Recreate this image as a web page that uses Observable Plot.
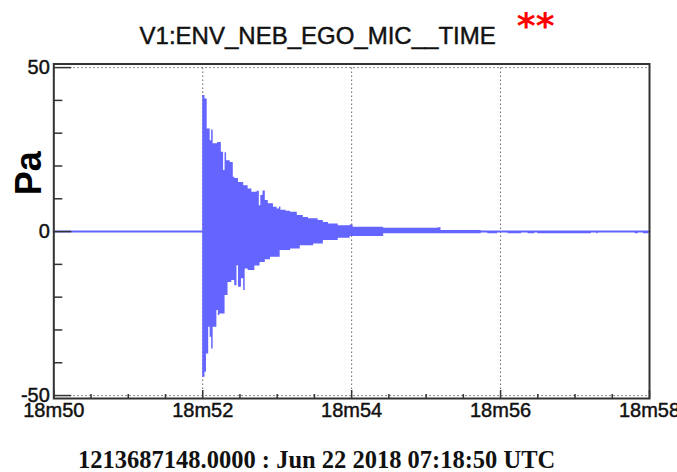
<!DOCTYPE html>
<html>
<head>
<meta charset="utf-8">
<script src="https://cdn.jsdelivr.net/npm/d3@7"></script>
<script src="https://cdn.jsdelivr.net/npm/@observablehq/plot@0.6"></script>
<style>
  body { margin: 0; background: #fff; }
  svg { display: block; }
  /* slightly heavier strokes for the sans labels */
  .heavy text, g[aria-label$="tick label"] text { stroke: #111; stroke-width: 0.45px; }
</style>
</head>
<body>
<div id="chart"></div>
<script>
// Labels
const channelName = "V1:ENV_NEB_EGO_MIC__TIME";
const flagMark = "**";
const gpsCaption = "1213687148.0000 : Jun 22 2018 07:18:50 UTC";
const yLabel = "Pa";

// Axis ticks (x in seconds past 07:18)
const xMajor = [50, 52, 54, 56, 58];
const xTickLabels = ["18m50", "18m52", "18m54", "18m56", "18m58"];
const xMinor = [50.5, 51, 51.5, 52.5, 53, 53.5, 54.5, 55, 55.5, 56.5, 57, 57.5];
const yMajor = [-50, 0, 50];
const yMinor = [-40, -30, -20, -10, 10, 20, 30, 40];

// Quiet trace level before and after the event
const traceT = [50, 58];
const traceV = [0, 0];

// Positive envelope of the microphone signal (Pa)
const upperT = [52.00, 52.03, 52.06, 52.10, 52.12, 52.14, 52.20, 52.25, 52.28, 52.30,
                52.32, 52.37, 52.41, 52.43, 52.48, 52.55, 52.61, 52.66, 52.73, 52.76,
                52.78, 52.81, 52.84, 52.88, 52.95, 53.00, 53.03, 53.05, 53.12, 53.18,
                53.27, 53.35, 53.42, 53.55, 53.62, 53.69, 53.82, 53.98, 54.02, 54.43,
                55.16, 55.20, 55.74];
const upperV = [41.5, 40.4, 31.3, 27.7, 31.0, 26.8, 27.2, 24.2, 18.6, 24.0,
                21.6, 21.1, 16.6, 16.2, 15.0, 14.0, 13.0, 12.0, 12.3, 7.9,
                11.0, 12.4, 9.5, 8.5, 7.4, 6.9, 7.5, 6.5, 6.2, 5.9,
                4.9, 4.3, 3.9, 3.4, 2.8, 2.3, 1.8, 2.0, 1.3, 1.0,
                1.2, 0.3, 0];

// Negative envelope of the microphone signal (Pa)
const lowerT = [52.00, 52.03, 52.05, 52.08, 52.10, 52.12, 52.14, 52.19, 52.21, 52.23,
                52.30, 52.34, 52.39, 52.43, 52.46, 52.48, 52.52, 52.55, 52.57, 52.61,
                52.70, 52.77, 52.84, 52.91, 53.04, 53.18, 53.31, 53.49, 53.62, 53.82,
                53.98, 54.43, 55.74, 55.83, 55.96, 56.10, 56.28, 56.37, 56.46, 56.50,
                57.22, 57.29, 57.31, 57.81, 57.85, 57.92, 57.99];
const lowerV = [-44.4, -42.9, -37.3, -29.2, -32.2, -35.8, -29.2, -24.1, -25.6, -25.1,
                -19.5, -15.5, -14.9, -16.5, -10.4, -17.0, -14.4, -18.0, -11.4, -11.9,
                -10.5, -9.4, -8.6, -7.8, -5.8, -5.3, -4.3, -3.8, -2.7, -2.0,
                -1.5, -0.7, 0, -0.7, 0, -0.7, 0, -0.7, 0, -0.7,
                0, -0.7, 0, -0.7, 0, -0.7, 0];

const upper = upperT.map((t, i) => ({t, v: upperV[i]}));
const lower = lowerT.map((t, i) => ({t, v: lowerV[i]}));
const trace = traceT.map((t, i) => ({t, v: traceV[i]}));

const signalColor = "#6464ff";
const axisColor = "#333";
const sans = "'Liberation Sans', Arial, Helvetica, sans-serif";

const chart = Plot.plot({
  width: 677,
  height: 472,
  marginTop: 63.5,
  marginBottom: 74,
  marginLeft: 53.3,
  marginRight: 28,
  style: {fontFamily: sans, background: "#fff", color: "#111"},
  x: {domain: [50, 58]},
  y: {domain: [-50.9, 51.1]},
  marks: [
    Plot.gridX(xMajor, {stroke: "#666", strokeOpacity: 1, strokeDasharray: "1.5,2.5"}),
    Plot.gridY(yMajor, {stroke: "#666", strokeOpacity: 1, strokeDasharray: "1.5,2.5"}),
    Plot.lineY(trace, {x: "t", y: "v", stroke: signalColor, strokeWidth: 2}),
    Plot.areaY(upper, {x: "t", y: "v", curve: "step-after", fill: signalColor}),
    Plot.areaY(lower, {x: "t", y: "v", curve: "step-after", fill: signalColor}),
    Plot.frame({stroke: axisColor, strokeWidth: 2}),
    // inward ticks on the left axis
    Plot.axisY(yMajor, {tickSize: -18, tickPadding: 22, tickFormat: d => String(d),
      fontSize: 20, label: null, color: axisColor, fill: "#111", strokeWidth: 1.5}),
    Plot.axisY(yMinor, {tickSize: -9, text: null, label: null, color: axisColor, strokeWidth: 1.5}),
    // inward ticks on the time axis
    Plot.axisX(xMajor, {tickSize: -8, tickPadding: 12,
      tickFormat: d => xTickLabels[xMajor.indexOf(d)],
      fontSize: 20, label: null, color: axisColor, fill: "#111", strokeWidth: 1.5}),
    Plot.axisX(xMinor, {tickSize: -4, text: null, label: null, color: axisColor, strokeWidth: 1.5}),
    // titles
    Plot.text([channelName], {frameAnchor: "top", dx: -34, dy: -20.5, lineAnchor: "bottom",
      fontSize: 24, fill: "#111", fontFamily: sans, className: "heavy"}),
    Plot.text([flagMark], {frameAnchor: "top", dx: 184, dy: -26, lineAnchor: "bottom",
      fontSize: 36, fontWeight: "bold", fill: "#ff0000", fontFamily: "'DejaVu Sans', sans-serif"}),
    Plot.text([gpsCaption], {frameAnchor: "bottom", dx: -35, dy: 69, lineAnchor: "bottom",
      fontSize: 24.5, fontWeight: "bold", fill: "#111", fontFamily: "'Liberation Serif', 'Times New Roman', serif"}),
    Plot.text([yLabel], {frameAnchor: "left", dx: -24, dy: -58, rotate: -90,
      textAnchor: "middle", lineAnchor: "middle",
      fontSize: 36, fontWeight: "bold", fill: "#000", fontFamily: sans})
  ]
});

document.getElementById("chart").appendChild(chart);
</script>
</body>
</html>
